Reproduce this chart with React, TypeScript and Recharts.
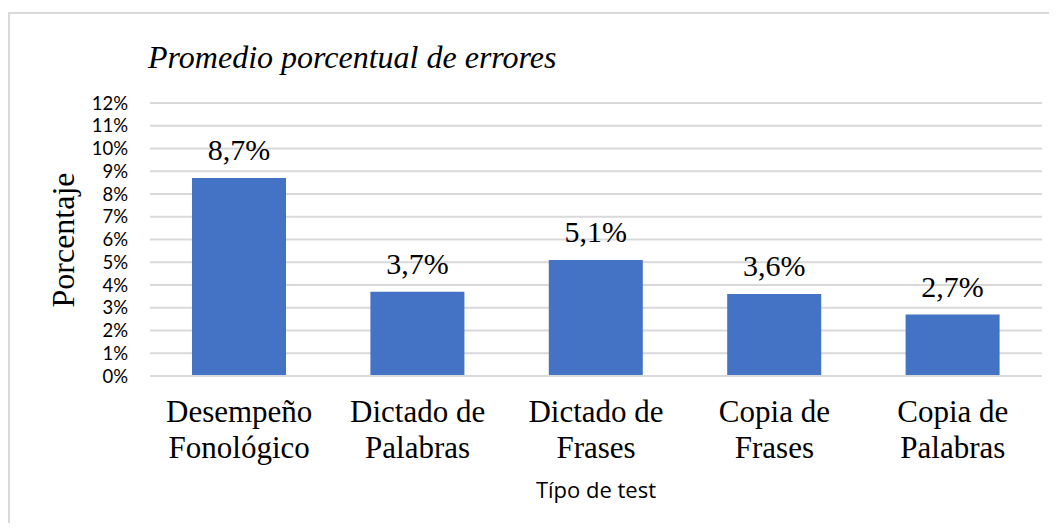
import React from "react";
import { BarChart, Bar, XAxis, YAxis, CartesianGrid, LabelList } from "recharts";

const categories = ["Desempeño\nFonológico", "Dictado de\nPalabras", "Dictado de\nFrases", "Copia de\nFrases", "Copia de\nPalabras"];
const values = [8.7, 3.7, 5.1, 3.6, 2.7];
const yTicks = [0, 1, 2, 3, 4, 5, 6, 7, 8, 9, 10, 11, 12];
const title = "Promedio porcentual de errores";
const yLabel = "Porcentaje";
const xLabel = "Típo de test";

const data = categories.map((c, i) => ({ name: c, value: values[i] }));

const SERIF = "Liberation Serif, DejaVu Serif, serif";
const SANS = "Open Sans, Lato, sans-serif";
const TICKSANS = "Lato, Open Sans, sans-serif";

const XTick = (props: any) => {
  const { x, y, payload } = props;
  const lines = String(payload.value).split("\n");
  return (
    <text x={x} y={y} textAnchor="middle" style={{ fontFamily: SERIF, fontSize: 31 }} fill="#000">
      {lines.map((l: string, i: number) => (
        <tspan key={i} x={x} dy={i === 0 ? 46 : 36}>{l}</tspan>
      ))}
    </text>
  );
};

export default function App() {
  return (
    <div style={{ position: "relative", width: 1049, height: 515, overflow: "hidden" }}>
      <div style={{ position: "absolute", left: 0, top: 4, width: 1049, height: 511, borderTop: "2px solid #d9d9d9", borderLeft: "2px solid #d9d9d9", boxSizing: "border-box" }} />
      <div style={{ position: "absolute", left: 0, top: 0 }}>
        <BarChart width={1049} height={515} data={data} margin={{ top: 95, right: 15, left: 0, bottom: 0 }}>
          <CartesianGrid vertical={false} stroke="#d9d9d9" strokeWidth={2} />
          <XAxis dataKey="name" height={147} axisLine={{ stroke: "#d9d9d9", strokeWidth: 2 }} tickLine={false} tickSize={0} tickMargin={0} tick={<XTick />} interval={0} />
          <YAxis width={142} domain={[0, 12]} ticks={yTicks} axisLine={false} tickLine={false} tickSize={0} tickMargin={22}
            tickFormatter={(v: number) => `${v}%`} tick={{ fill: "#000", fontFamily: TICKSANS, fontSize: 18.5 }} interval={0} />
          <Bar dataKey="value" fill="#4472C4" barSize={94} isAnimationActive={false}>
            <LabelList dataKey="value" position="top" offset={18}
              formatter={(v: any) => `${Number(v).toFixed(1).replace(".", ",")}%`}
              style={{ fontFamily: SERIF, fontSize: 30, fill: "#000" }} />
          </Bar>
        </BarChart>
      </div>
      <svg style={{ position: "absolute", left: 0, top: 0 }} width={1049} height={515}>
        <text x={140} y={60} style={{ fontFamily: SERIF, fontStyle: "italic", fontSize: 32 }} fill="#000">{title}</text>
        <text x={66} y={232} transform="rotate(-90 66 232)" textAnchor="middle" style={{ fontFamily: SERIF, fontSize: 32 }} fill="#000">{yLabel}</text>
        <text x={588} y={490} textAnchor="middle" style={{ fontFamily: SANS, fontSize: 22 }} fill="#000">{xLabel}</text>
      </svg>
    </div>
  );
}
